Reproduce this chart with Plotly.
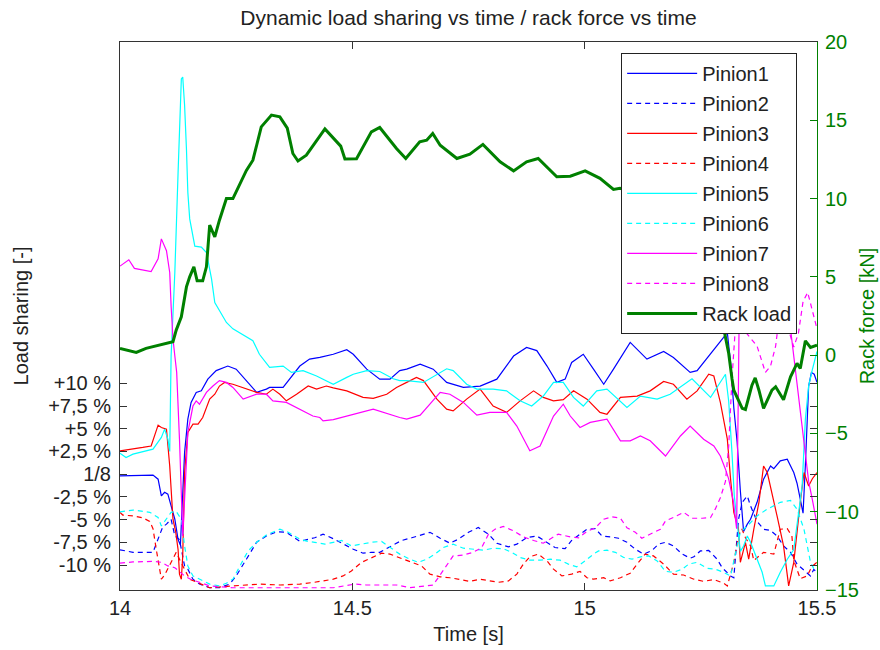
import plotly.graph_objects as go

# ---------------- data ----------------
t_rack = [14.000, 14.035, 14.056, 14.114, 14.121, 14.132, 14.143, 14.150, 14.159, 14.166, 14.178, 14.186,
          14.193, 14.204, 14.214, 14.229, 14.243, 14.272, 14.286, 14.304, 14.326, 14.344, 14.360, 14.372,
          14.383, 14.401, 14.441, 14.475, 14.484, 14.509, 14.541, 14.559, 14.595, 14.615, 14.645, 14.660,
          14.673, 14.689, 14.725, 14.753, 14.781, 14.818, 14.847, 14.875, 14.900, 14.940, 14.969, 15.001,
          15.033, 15.062, 15.076, 15.120, 15.170, 15.220, 15.260, 15.285, 15.298, 15.310, 15.317, 15.321,
          15.339, 15.346, 15.360, 15.367, 15.375, 15.385, 15.403, 15.411, 15.428, 15.443, 15.457, 15.464,
          15.475, 15.486, 15.500]
rack_load = [0.43, 0.17, 0.43, 0.85, 1.6, 2.45, 4.36, 5.0, 5.64, 4.75, 4.75, 5.64,
             8.3, 7.56, 8.62, 10.0, 10.0, 11.8, 12.45, 14.58, 15.33, 15.22, 14.5, 12.88,
             12.4, 12.77, 14.45, 13.35, 12.53, 12.55, 14.26, 14.54, 13.2, 12.56, 13.62, 13.73,
             14.16, 13.41, 12.56, 12.84, 13.46, 12.35, 11.77, 12.35, 12.56, 11.39, 11.43, 11.77,
             11.29, 10.58, 10.65, 10.3, 10.0, 9.4, 8.0, 5.0, 1.9, 0.1, -1.5, -2.24,
             -3.4, -3.47, -1.92, -1.45, -2.24, -3.4, -2.24, -2.02, -2.85, -1.38, -0.53, -0.85,
             0.91, 0.49, 0.64]

t_p1 = [14.000, 14.071, 14.082, 14.089, 14.096, 14.103, 14.110, 14.118, 14.125, 14.130, 14.139, 14.146,
        14.153, 14.164, 14.175, 14.189, 14.207, 14.232, 14.250, 14.272, 14.294, 14.315, 14.322, 14.351,
        14.365, 14.387, 14.408, 14.430, 14.459, 14.488, 14.502, 14.531, 14.559, 14.581, 14.602, 14.617,
        14.646, 14.674, 14.703, 14.739, 14.775, 14.811, 14.847, 14.875, 14.897, 14.919, 14.940, 14.958,
        14.972, 14.997, 15.019, 15.041, 15.062, 15.098, 15.134, 15.170, 15.191, 15.227, 15.242, 15.271,
        15.299, 15.307, 15.314, 15.321, 15.328, 15.335, 15.342, 15.350, 15.357, 15.371, 15.385, 15.400,
        15.407, 15.421, 15.436, 15.450, 15.457, 15.464, 15.470, 15.475, 15.482, 15.488, 15.494, 15.500]
p1 = [-0.18, -0.1, -0.55, -2.4, -2.0, -2.2, -3.5, -4.96, -7.2, -7.8, 2.4, 6.06,
      7.9, 9.0, 9.17, 10.46, 11.4, 11.9, 11.56, 10.3, 9.0, 9.36, 9.55, 9.55,
      10.46, 11.9, 12.67, 12.85, 13.2, 13.7, 13.2, 11.56, 10.46, 10.46, 11.4, 11.56,
      12.1, 11.56, 10.1, 9.55, 9.7, 10.46, 13.0, 13.95, 13.6, 11.9, 10.1, 10.46,
      12.3, 13.2, 11.56, 9.9, 11.56, 14.5, 12.67, 13.5, 12.85, 11.2, 11.4, 13.2,
      15.05, 15.6, 12.3, 7.3, 3.6, -1.8, -6.3, -5.5, -4.96, -3.1, -0.55, 0.9,
      0.6, 1.46, 1.65, 0.18, -1.0, -2.75, -4.3, 1.0, 9.7, 11.2, 11.0, 10.1]

t_p2 = [14.000, 14.028, 14.071, 14.085, 14.092, 14.100, 14.110, 14.118, 14.128, 14.139, 14.146, 14.157,
        14.171, 14.193, 14.214, 14.236, 14.250, 14.272, 14.294, 14.315, 14.337, 14.358, 14.387, 14.419,
        14.437, 14.459, 14.480, 14.502, 14.523, 14.541, 14.559, 14.584, 14.606, 14.628, 14.649, 14.667,
        14.689, 14.710, 14.728, 14.750, 14.771, 14.793, 14.811, 14.836, 14.854, 14.875, 14.897, 14.919,
        14.936, 14.958, 14.972, 14.990, 15.005, 15.023, 15.037, 15.055, 15.073, 15.091, 15.109, 15.127,
        15.145, 15.159, 15.174, 15.191, 15.210, 15.227, 15.235, 15.249, 15.267, 15.285, 15.296, 15.314,
        15.321, 15.331, 15.339, 15.350, 15.357, 15.371, 15.385, 15.400, 15.414, 15.428, 15.443, 15.457,
        15.472, 15.486, 15.493, 15.500]
p2 = [-8.33, -8.6, -8.6, -6.8, -5.8, -5.5, -4.96, -6.8, -7.2, -10.1, -10.46, -11.56,
      -12.1, -12.5, -12.5, -12.1, -11.2, -9.36, -7.5, -6.8, -6.35, -6.4, -7.4, -7.0,
      -6.6, -7.1, -7.7, -8.26, -8.7, -8.6, -8.6, -7.9, -7.3, -7.0, -6.7, -6.4,
      -7.05, -7.6, -7.16, -6.4, -5.87, -6.6, -7.6, -8.0, -7.7, -7.0, -6.8, -7.5,
      -8.07, -8.2, -7.3, -6.6, -6.06, -6.0, -6.8, -6.9, -7.05, -7.5, -8.26, -8.8,
      -8.4, -7.7, -7.5, -7.9, -8.8, -9.25, -9.1, -8.45, -8.4, -9.36, -10.3, -11.2,
      -11.4, -5.0, -3.1, -2.4, -3.5, -5.2, -6.06, -6.2, -6.8, -7.9, -8.6, -9.9,
      -10.6, -11.2, -10.5, -10.8]

t_p3 = [14.000, 14.028, 14.049, 14.067, 14.074, 14.082, 14.089, 14.100, 14.107, 14.114, 14.120, 14.125,
        14.128, 14.132, 14.135, 14.139, 14.146, 14.157, 14.168, 14.178, 14.193, 14.204, 14.214, 14.225,
        14.243, 14.272, 14.294, 14.315, 14.329, 14.344, 14.358, 14.380, 14.405, 14.423, 14.444, 14.459,
        14.488, 14.523, 14.545, 14.574, 14.595, 14.617, 14.638, 14.653, 14.682, 14.703, 14.717, 14.746,
        14.775, 14.803, 14.832, 14.861, 14.890, 14.911, 14.933, 14.954, 14.976, 15.005, 15.033, 15.048,
        15.077, 15.113, 15.141, 15.170, 15.191, 15.220, 15.242, 15.267, 15.278, 15.292, 15.307, 15.314,
        15.321, 15.331, 15.335, 15.346, 15.353, 15.364, 15.375, 15.385, 15.393, 15.414, 15.428, 15.439,
        15.450, 15.464, 15.472, 15.482, 15.490, 15.500]
p3 = [2.57, 2.75, 2.94, 3.1, 4.2, 5.4, 5.14, 4.96, 0.9, -4.96, -6.4, -8.3,
      -11.0, -11.56, -9.0, 0.18, 4.6, 5.5, 5.5, 6.24, 8.26, 8.8, 9.7, 10.1,
      9.9, 9.36, 9.0, 8.8, 9.36, 8.8, 8.07, 8.8, 9.7, 9.36, 9.7, 9.5,
      9.17, 8.45, 8.34, 8.8, 9.55, 10.1, 10.65, 10.3, 8.26, 7.16, 6.97, 8.26,
      9.36, 7.5, 6.8, 8.07, 9.17, 8.45, 8.07, 8.2, 9.17, 8.26, 6.8, 6.6,
      8.45, 8.6, 9.17, 10.2, 9.9, 8.26, 9.17, 11.0, 10.8, 7.9, 3.85, -0.55,
      -4.2, -6.06, -9.7, -7.5, -9.36, -6.06, -3.1, 0.9, 0.18, -4.6, -7.9, -12.3,
      -9.7, -3.1, 0.18, -1.3, -0.5, 0.18]

t_p4 = [14.000, 14.006, 14.028, 14.049, 14.064, 14.071, 14.078, 14.085, 14.089, 14.096, 14.107, 14.114,
        14.121, 14.132, 14.150, 14.171, 14.193, 14.243, 14.301, 14.344, 14.387, 14.419, 14.441, 14.459,
        14.480, 14.498, 14.520, 14.541, 14.563, 14.581, 14.602, 14.620, 14.649, 14.667, 14.689, 14.710,
        14.732, 14.753, 14.775, 14.793, 14.814, 14.836, 14.854, 14.868, 14.882, 14.900, 14.919, 14.933,
        14.951, 14.972, 14.990, 15.005, 15.019, 15.041, 15.055, 15.077, 15.098, 15.113, 15.130, 15.148,
        15.170, 15.191, 15.213, 15.235, 15.256, 15.278, 15.299, 15.307, 15.321, 15.331, 15.338, 15.346,
        15.357, 15.364, 15.385, 15.407, 15.421, 15.436, 15.446, 15.450, 15.464, 15.479, 15.486, 15.493,
        15.500]
p4 = [-4.2, -4.5, -4.6, -4.8, -5.2, -6.0, -8.26, -10.1, -11.56, -11.1, -10.1, -9.3,
      -8.6, -9.8, -11.56, -12.0, -12.5, -12.3, -12.1, -12.2, -12.1, -11.9, -11.7, -11.56,
      -11.2, -10.65, -9.7, -9.17, -8.7, -8.8, -9.17, -9.55, -10.1, -11.0, -11.3, -11.4,
      -11.6, -11.8, -11.56, -11.7, -11.9, -11.75, -11.0, -9.9, -9.1, -8.8, -9.55, -10.46,
      -11.2, -11.0, -10.7, -11.4, -11.56, -11.4, -11.75, -11.4, -10.9, -9.9, -8.8, -9.0,
      -9.9, -11.0, -11.1, -11.56, -11.8, -11.6, -12.0, -12.3, -9.7, -6.8, -6.0, -7.0,
      -7.9, -9.5, -8.6, -8.8, -6.06, -6.0, -6.8, -9.5, -11.5, -11.2, -10.46, -10.0,
      -9.7]

t_p5 = [14.000, 14.013, 14.028, 14.071, 14.089, 14.096, 14.103, 14.107, 14.110, 14.118, 14.125, 14.128,
        14.132, 14.135, 14.139, 14.143, 14.146, 14.150, 14.161, 14.175, 14.186, 14.197, 14.204, 14.229,
        14.243, 14.286, 14.300, 14.322, 14.351, 14.369, 14.394, 14.423, 14.444, 14.459, 14.488, 14.502,
        14.531, 14.559, 14.588, 14.602, 14.617, 14.653, 14.703, 14.717, 14.746, 14.768, 14.803, 14.832,
        14.861, 14.886, 14.911, 14.933, 14.954, 14.976, 14.997, 15.026, 15.048, 15.091, 15.120, 15.156,
        15.184, 15.231, 15.271, 15.303, 15.310, 15.314, 15.317, 15.322, 15.328, 15.335, 15.342, 15.350,
        15.357, 15.368, 15.382, 15.389, 15.407, 15.421, 15.436, 15.450, 15.461, 15.468, 15.475, 15.482,
        15.490, 15.500]
p5 = [2.3, 1.84, 2.2, 2.75, 4.04, 4.96, 3.85, 2.5, 13.0, 22.2, 33.2, 38.7,
      43.5, 43.7, 40.6, 35.8, 31.0, 28.1, 25.1, 25.0, 24.4, 21.5, 18.9, 16.7,
      16.0, 14.7, 13.2, 11.75, 11.9, 11.2, 11.4, 10.8, 10.3, 9.9, 10.65, 11.0,
      11.4, 11.3, 10.5, 10.3, 10.3, 10.1, 11.6, 11.4, 9.9, 9.36, 9.36, 9.17,
      8.07, 7.5, 8.6, 10.1, 10.1, 8.45, 7.5, 9.17, 9.36, 7.35, 8.6, 8.26,
      8.8, 10.5, 8.45, 11.0, 8.0, 4.96, 2.4, -2.4, -5.0, -8.5, -7.9, -6.8,
      -7.5, -9.0, -10.8, -12.3, -12.3, -10.8, -9.36, -8.3, -4.0, -1.3, 6.06, 9.7,
      11.5, 13.5]

t_p6 = [14.000, 14.028, 14.064, 14.082, 14.089, 14.100, 14.110, 14.121, 14.132, 14.139, 14.146, 14.157,
        14.171, 14.193, 14.214, 14.229, 14.243, 14.258, 14.275, 14.294, 14.315, 14.344, 14.362, 14.387,
        14.405, 14.419, 14.441, 14.459, 14.477, 14.498, 14.520, 14.541, 14.563, 14.581, 14.602, 14.624,
        14.642, 14.660, 14.678, 14.696, 14.717, 14.739, 14.760, 14.782, 14.803, 14.825, 14.843, 14.861,
        14.882, 14.904, 14.926, 14.947, 14.965, 14.983, 15.001, 15.019, 15.030, 15.048, 15.066, 15.084,
        15.102, 15.120, 15.138, 15.156, 15.174, 15.191, 15.210, 15.224, 15.242, 15.263, 15.281, 15.299,
        15.310, 15.314, 15.328, 15.335, 15.350, 15.371, 15.393, 15.421, 15.443, 15.457, 15.472, 15.486,
        15.497]
p6 = [-4.15, -3.95, -4.2, -4.77, -5.7, -4.96, -4.2, -4.1, -4.96, -7.9, -10.1, -11.2,
      -11.56, -12.1, -12.3, -12.0, -11.56, -10.2, -8.5, -7.5, -6.7, -6.06, -6.4, -7.16,
      -7.4, -7.5, -7.7, -7.5, -7.3, -7.9, -7.7, -7.5, -7.4, -8.07, -8.8, -9.36,
      -9.7, -9.36, -8.8, -8.07, -7.7, -8.15, -8.26, -8.37, -8.15, -8.2, -8.6, -9.17,
      -9.47, -9.47, -9.36, -9.47, -9.9, -10.2, -9.55, -8.8, -8.45, -8.37, -8.6, -9.17,
      -9.36, -9.1, -9.0, -9.55, -10.7, -10.8, -10.46, -9.9, -9.7, -10.35, -10.46, -10.8,
      -11.1, -11.2, -7.9, -6.4, -5.7, -4.6, -3.85, -3.1, -2.9, -3.85, -6.06, -9.7,
      -10.8]

t_p7 = [14.000, 14.019, 14.031, 14.067, 14.082, 14.089, 14.100, 14.107, 14.110, 14.114, 14.118, 14.122,
        14.128, 14.132, 14.135, 14.139, 14.143, 14.146, 14.157, 14.164, 14.171, 14.186, 14.200, 14.214,
        14.229, 14.243, 14.265, 14.294, 14.315, 14.329, 14.358, 14.387, 14.415, 14.430, 14.437, 14.459,
        14.488, 14.545, 14.602, 14.617, 14.646, 14.689, 14.710, 14.739, 14.768, 14.796, 14.832, 14.854,
        14.882, 14.904, 14.933, 14.954, 14.969, 14.990, 15.012, 15.048, 15.077, 15.098, 15.120, 15.141,
        15.174, 15.206, 15.227, 15.256, 15.278, 15.292, 15.303, 15.310, 15.320, 15.327, 15.331, 15.335,
        15.346, 15.400, 15.425, 15.436, 15.443, 15.457, 15.468, 15.475, 15.482, 15.490, 15.500]
p7 = [22.9, 23.6, 22.65, 22.3, 23.7, 25.9, 24.6, 22.2, 18.5, 14.9, 13.0, 11.2,
      3.85, -3.0, -6.8, -2.75, 2.0, 4.6, 7.5, 8.07, 7.7, 9.0, 9.7, 10.3,
      10.1, 9.55, 8.26, 8.8, 8.8, 8.07, 7.9, 7.16, 6.4, 6.24, 5.87, 6.0,
      6.4, 7.16, 6.24, 6.06, 6.5, 9.0, 8.8, 7.9, 6.5, 6.8, 6.8, 5.3,
      2.57, 3.1, 6.4, 7.7, 6.4, 5.14, 5.7, 6.06, 3.67, 3.67, 4.2, 3.67,
      2.0, 4.2, 5.3, 3.85, 3.1, 2.0, 0.55, -0.55, -3.0, -6.0, 10.0, 30.0,
      40.0, 38.0, 30.0, 20.0, 16.0, 10.0, 5.5, 2.2, -0.8, -2.8, -5.5]

t_p8 = [14.000, 14.028, 14.071, 14.089, 14.103, 14.118, 14.139, 14.153, 14.171, 14.193, 14.243, 14.300,
        14.387, 14.459, 14.505, 14.530, 14.595, 14.624, 14.674, 14.696, 14.717, 14.739, 14.760, 14.778,
        14.793, 14.807, 14.825, 14.847, 14.868, 14.890, 14.911, 14.943, 14.969, 14.987, 15.005, 15.023,
        15.041, 15.059, 15.077, 15.091, 15.109, 15.123, 15.145, 15.163, 15.174, 15.191, 15.213, 15.231,
        15.253, 15.271, 15.281, 15.292, 15.303, 15.310, 15.317, 15.324, 15.332, 15.340, 15.347, 15.371,
        15.382, 15.389, 15.400, 15.411, 15.418, 15.425, 15.432, 15.443, 15.450, 15.460, 15.470, 15.480,
        15.490, 15.500]
p8 = [-9.8, -9.66, -9.6, -9.7, -10.1, -10.3, -11.2, -11.6, -11.9, -12.3, -12.5, -12.5,
      -12.5, -12.5, -12.1, -12.2, -12.2, -12.5, -12.2, -10.5, -9.0, -8.9, -8.6, -8.1,
      -6.6, -6.06, -5.76, -6.24, -6.9, -7.3, -7.6, -6.6, -6.9, -7.0, -6.3, -5.9,
      -4.96, -4.7, -4.85, -5.9, -6.4, -7.05, -6.5, -6.06, -5.14, -4.77, -4.2, -4.85,
      -4.85, -4.77, -3.85, -2.6, -0.8, 3.1, 10.5, 16.0, 22.0, 20.0, 15.6, 14.1,
      12.3, 11.2, 11.9, 14.1, 17.0, 20.0, 17.0, 15.0, 14.0, 15.5, 19.0, 20.0,
      18.0, 16.0]

left_tickvals = [-10, -7.5, -5, -2.5, 0, 2.5, 5, 7.5, 10]
left_ticktext = ["-10 %", "-7,5 %", "-5 %", "-2,5 %", "1/8", "+2,5 %", "+5 %", "+7,5 %", "+10 %"]
x_tickvals = [14, 14.5, 15, 15.5]
x_ticktext = ["14", "14.5", "15", "15.5"]
right_tickvals = [-15, -10, -5, 0, 5, 10, 15, 20]

# ---------------- figure ----------------
FONT = "Liberation Sans, Arial, sans-serif"
GREEN = "#008000"
AX = "#333333"
TXT = "#222222"

pinions = [
    ("Pinion1", t_p1, p1, "#0000FF", "solid"),
    ("Pinion2", t_p2, p2, "#0000FF", "5px,4px"),
    ("Pinion3", t_p3, p3, "#FF0000", "solid"),
    ("Pinion4", t_p4, p4, "#FF0000", "5px,4px"),
    ("Pinion5", t_p5, p5, "#00FFFF", "solid"),
    ("Pinion6", t_p6, p6, "#00FFFF", "5px,4px"),
    ("Pinion7", t_p7, p7, "#FF00FF", "solid"),
    ("Pinion8", t_p8, p8, "#FF00FF", "5px,4px"),
]

fig = go.Figure()
for i, (name, tt, vv, col, dash) in enumerate(pinions):
    fig.add_trace(go.Scatter(x=tt, y=vv, name=name, mode="lines", yaxis="y",
                             legendgroup=f"g{i}",
                             line=dict(color=col, width=1.2, dash=dash)))
fig.add_trace(go.Scatter(x=t_rack, y=rack_load, name="Rack load", mode="lines", yaxis="y2",
                         legendgroup="g8", line=dict(color=GREEN, width=3)))

fig.update_layout(
    width=880, height=650,
    margin=dict(l=120, r=63, t=42, b=60, autoexpand=False),
    paper_bgcolor="white", plot_bgcolor="white",
    font=dict(family=FONT, size=20, color=TXT),
    title=dict(text="Dynamic load sharing vs time / rack force vs time",
               x=0.5, xref="paper", y=1 - 18 / 650, yref="container",
               xanchor="center", yanchor="middle",
               font=dict(family=FONT, size=21, color=TXT)),
    xaxis=dict(range=[14, 15.5], tickvals=x_tickvals, ticktext=x_ticktext, automargin=False,
               showgrid=False, zeroline=False, showline=True, linecolor=AX, linewidth=1,
               mirror="ticks", ticks="inside", ticklen=7, tickcolor=AX,
               title=dict(text="Time [s]", standoff=8, font=dict(size=20)),
               tickfont=dict(size=20)),
    yaxis=dict(range=[-12.75, 47.57], tickvals=left_tickvals, ticktext=left_ticktext, automargin=False,
               showgrid=False, zeroline=False, showline=True, linecolor=AX, linewidth=1,
               mirror="ticks", ticks="inside", ticklen=7, tickcolor=AX,
               ticklabelstandoff=4,
               title=dict(text="Load sharing [-]", standoff=14, font=dict(size=20)),
               tickfont=dict(size=20)),
    yaxis2=dict(range=[-15, 20], tickvals=right_tickvals, overlaying="y", side="right", automargin=False,
                showgrid=False, zeroline=False, showline=True, linecolor=GREEN, linewidth=1,
                ticks="inside", ticklen=7, tickcolor=GREEN,
                ticklabelstandoff=3,
                tickfont=dict(size=20, color=GREEN),
                title=dict(text="Rack force [kN]", standoff=2, font=dict(color=GREEN, size=20))),
    legend=dict(x=0.719, y=0.98, xanchor="left", yanchor="top",
                bgcolor="white", bordercolor=TXT, borderwidth=1,
                font=dict(family=FONT, size=20, color=TXT),
                tracegroupgap=1, itemwidth=70),
    showlegend=True,
)

# remove the browser's default 8px page margin so the figure fills the window exactly
fig.write_html("out.html", config={"displayModeBar": False},
               post_script="document.body.style.margin='0';")
